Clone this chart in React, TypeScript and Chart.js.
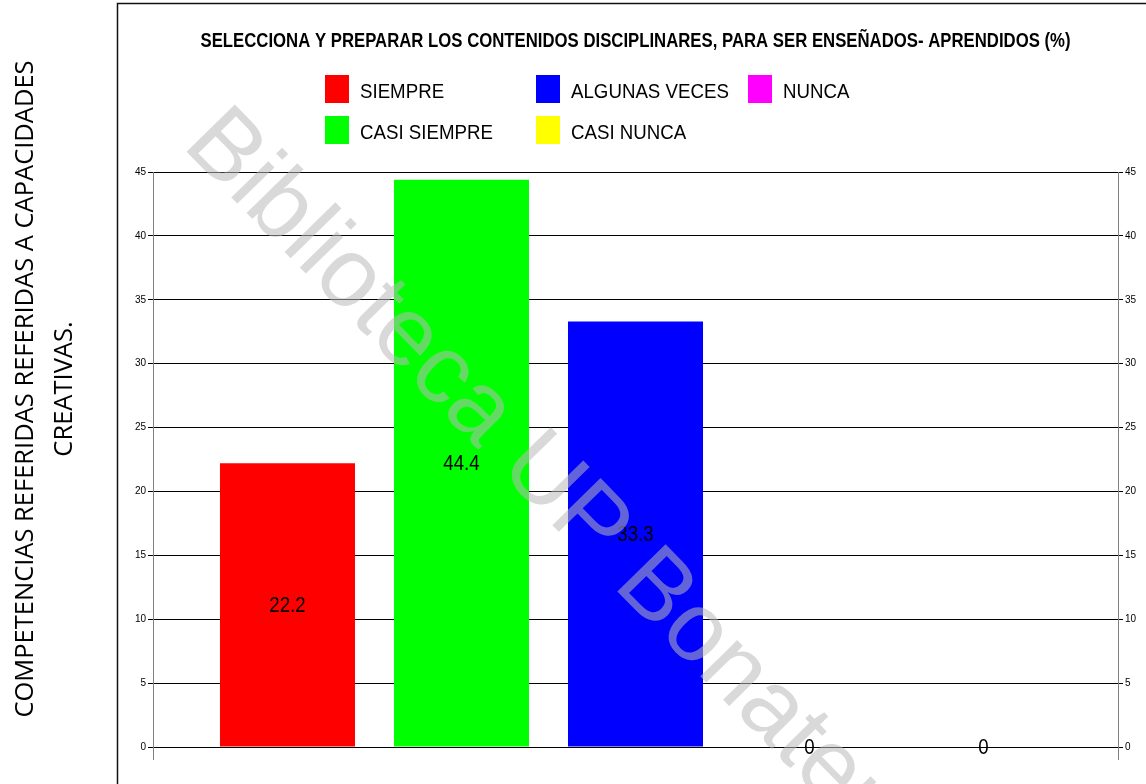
import React, { useEffect, useRef } from "react";
import { Chart, registerables } from "chart.js";

Chart.register(...registerables);

const TITLE = "SELECCIONA Y PREPARAR LOS CONTENIDOS DISCIPLINARES, PARA SER ENSEÑADOS- APRENDIDOS (%)";
const SIDE_LINES = ["COMPETENCIAS REFERIDAS REFERIDAS A CAPACIDADES", "CREATIVAS."];
const WATERMARK = "Biblioteca UP Bonaterra";
const CATEGORIES = [""];
const SERIES = ["SIEMPRE", "CASI SIEMPRE", "ALGUNAS VECES", "CASI NUNCA", "NUNCA"];
const VALUES = [22.2, 44.4, 33.3, 0, 0];
const COLORS = ["#FF0000", "#00FF00", "#0000FF", "#FFFF00", "#FF00FF"];
const Y_MIN = 0;
const Y_MAX = 45;
const Y_STEP = 5;

const W = 1146;
const H = 784;

function fillScaled(ctx: CanvasRenderingContext2D, text: string, x: number, y: number, sx: number, align: CanvasTextAlign) {
  ctx.save();
  ctx.translate(x, y);
  ctx.scale(sx, 1);
  ctx.textAlign = align;
  ctx.fillText(text, 0, 0);
  ctx.restore();
}

const decorPlugin = {
  id: "decor",
  afterDatasetsDraw(chart: any) {
    const ctx: CanvasRenderingContext2D = chart.ctx;
    ctx.save();
    ctx.fillStyle = "#000";
    ctx.font = '22px "Liberation Sans", Arial, sans-serif';
    ctx.textBaseline = "middle";
    chart.data.datasets.forEach((ds: any, i: number) => {
      const meta = chart.getDatasetMeta(i);
      meta.data.forEach((bar: any, j: number) => {
        const v = ds.data[j];
        const cy = (bar.y + bar.base) / 2;
        fillScaled(ctx, String(v), bar.x, cy + 1, 0.85, "center");
      });
    });
    ctx.restore();
  },
  afterDraw(chart: any) {
    const ctx: CanvasRenderingContext2D = chart.ctx;
    const area = chart.chartArea;
    ctx.save();

    // frame
    ctx.strokeStyle = "#111";
    ctx.lineWidth = 1.5;
    ctx.beginPath();
    ctx.moveTo(117.5, H);
    ctx.lineTo(117.5, 3.5);
    ctx.lineTo(W, 3.5);
    ctx.stroke();

    // axis extensions below zero
    ctx.strokeStyle = "#808080";
    ctx.lineWidth = 1;
    ctx.beginPath();
    ctx.moveTo(Math.round(area.left) + 0.5, area.bottom);
    ctx.lineTo(Math.round(area.left) + 0.5, area.bottom + 13);
    ctx.moveTo(Math.round(area.right) + 0.5, area.bottom);
    ctx.lineTo(Math.round(area.right) + 0.5, area.bottom + 13);
    ctx.stroke();

    // title
    ctx.fillStyle = "#000";
    ctx.font = 'bold 21px "Liberation Sans", Arial, sans-serif';
    ctx.textBaseline = "alphabetic";
    const tw = ctx.measureText(TITLE).width;
    const cx = (area.left + area.right) / 2;
    fillScaled(ctx, TITLE, cx, 47, 870 / tw, "center");

    // legend (column-major, two rows)
    const colX = [325, 536, 748];
    const rowY = [75, 116];
    ctx.font = '21px "Liberation Sans", Arial, sans-serif';
    SERIES.forEach((name, i) => {
      const col = Math.floor(i / 2);
      const row = i % 2;
      const bx = colX[col];
      const by = rowY[row];
      ctx.fillStyle = COLORS[i];
      ctx.fillRect(bx, by, 24, 28);
      ctx.fillStyle = "#000";
      fillScaled(ctx, name, bx + 35, by + 22.5, 0.89, "left");
    });

    // side label
    ctx.fillStyle = "#000";
    ctx.font = '25.5px "Open Sans", sans-serif';
    ctx.save();
    ctx.translate(33, 389);
    ctx.rotate(-Math.PI / 2);
    ctx.textAlign = "center";
    ctx.textBaseline = "alphabetic";
    ctx.fillText(SIDE_LINES[0], 0, 0);
    ctx.fillText(SIDE_LINES[1], 0, 39);
    ctx.restore();

    // watermark
    ctx.save();
    ctx.translate(181, 146);
    ctx.rotate((45.6 * Math.PI) / 180);
    ctx.font = '98px "Liberation Sans", Arial, sans-serif';
    ctx.fillStyle = "rgba(185,185,185,0.54)";
    ctx.textAlign = "left";
    ctx.textBaseline = "alphabetic";
    ctx.fillText(WATERMARK, 0, 0);
    ctx.restore();

    ctx.restore();
  },
};

export default function App() {
  const ref = useRef<HTMLCanvasElement | null>(null);

  useEffect(() => {
    const canvas = ref.current;
    if (!canvas) return;
    const tickFont = { family: '"Liberation Sans", Arial, sans-serif', size: 10 };
    const chart = new Chart(canvas, {
      type: "bar",
      data: {
        labels: CATEGORIES,
        datasets: SERIES.map((name, i) => ({
          label: name,
          data: [VALUES[i]],
          backgroundColor: COLORS[i],
          borderWidth: 0,
          categoryPercentage: 0.9016,
          barPercentage: 0.776,
        })),
      },
      options: {
        responsive: false,
        animation: false,
        devicePixelRatio: 1,
        layout: { padding: { left: 117, right: 8, top: 172, bottom: 37 } },
        plugins: {
          legend: { display: false },
          title: { display: false },
          tooltip: { enabled: false },
        },
        scales: {
          x: { display: false, offset: true },
          y: {
            position: "left",
            min: Y_MIN,
            max: Y_MAX,
            ticks: { stepSize: Y_STEP, font: tickFont, color: "#000", padding: 2 },
            grid: { color: "#000", lineWidth: 1, tickLength: 5 },
            border: { color: "#808080", width: 1 },
            afterFit: (s: any) => {
              s.width = 36;
            },
          },
          y2: {
            position: "right",
            min: Y_MIN,
            max: Y_MAX,
            ticks: { stepSize: Y_STEP, font: tickFont, color: "#000", padding: 2 },
            grid: { color: "#000", lineWidth: 1, tickLength: 5, drawOnChartArea: false },
            border: { color: "#808080", width: 1 },
            afterFit: (s: any) => {
              s.width = 20;
            },
          },
        },
      } as any,
      plugins: [decorPlugin],
    });
    return () => chart.destroy();
  }, []);

  return (
    <div style={{ position: "absolute", left: 0, top: 0, width: W, height: H, background: "#fff" }}>
      <canvas ref={ref} width={W} height={H} style={{ display: "block", width: W, height: H }} />
    </div>
  );
}
